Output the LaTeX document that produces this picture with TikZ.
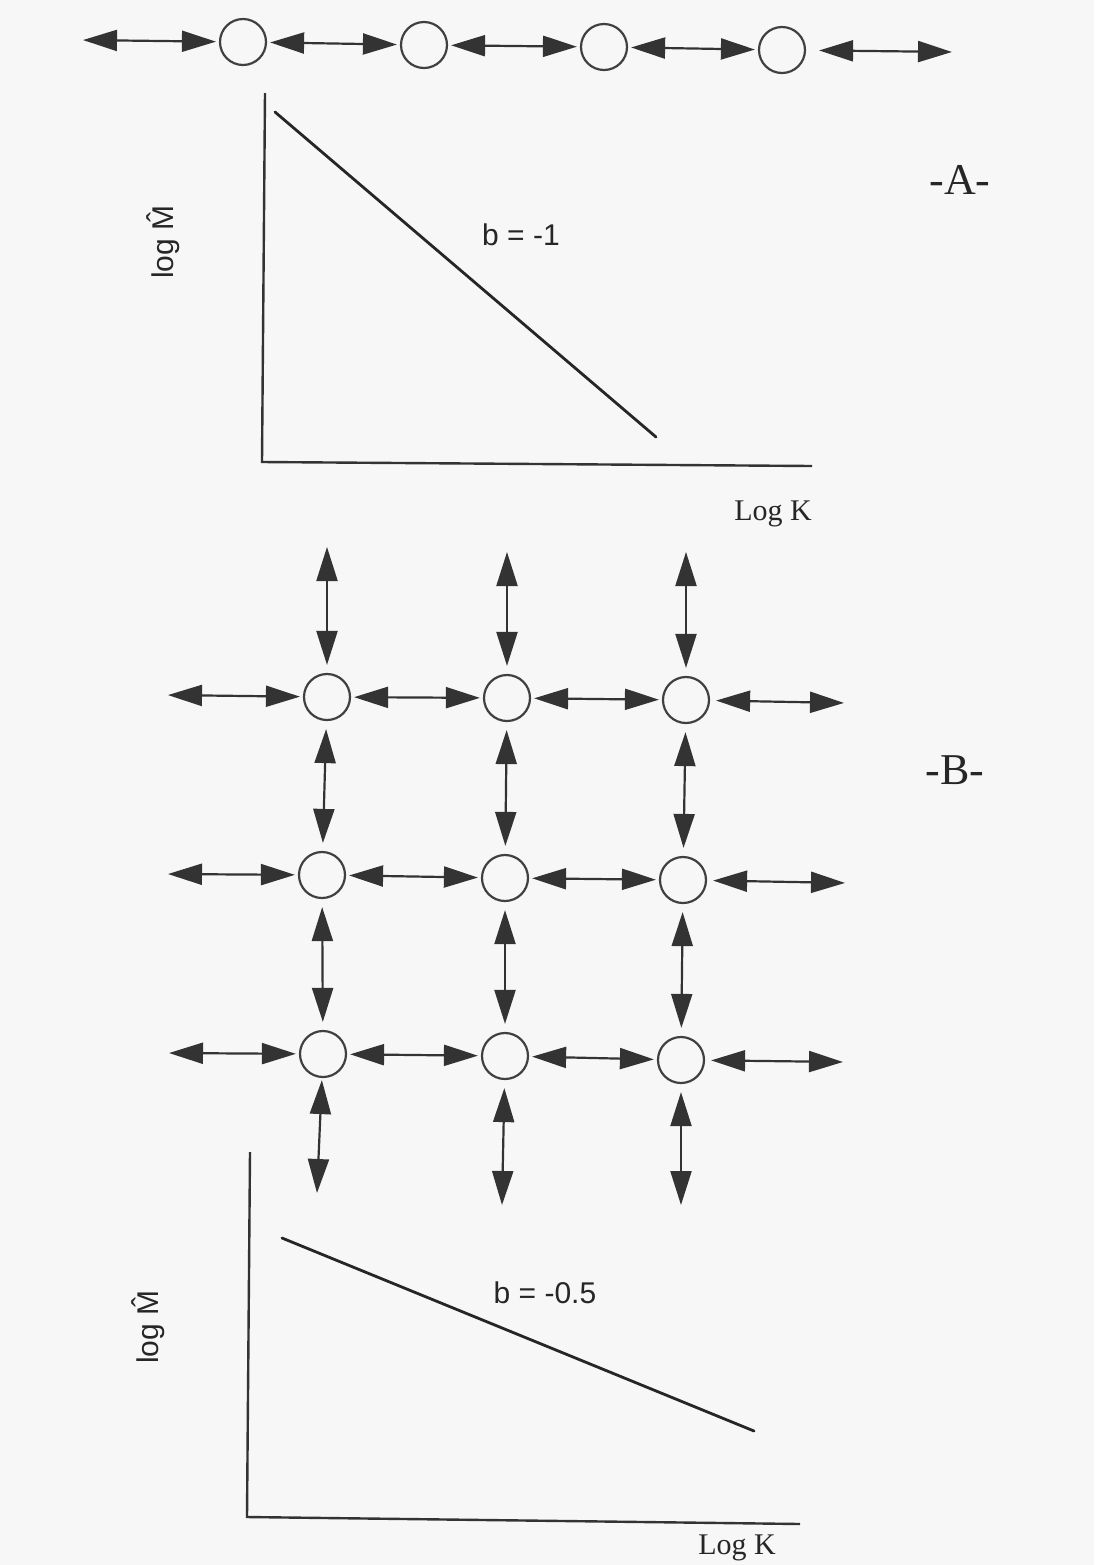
\documentclass[tikz,border=0pt]{standalone}
\usepackage{fontspec}
\setmainfont{Liberation Serif}
\newfontfamily\sansf{Liberation Sans}
\usetikzlibrary{arrows.meta}
\begin{document}
\begin{tikzpicture}[x=0.5pt,y=-0.5pt,
  site/.style={circle, draw=black!75, line width=1.1pt, minimum size=23pt, inner sep=0pt},
  dbl/.style={{Triangle[length=17pt,width=10.5pt]}-{Triangle[length=17pt,width=10.5pt]}, draw=black!80, line width=1.1pt, shorten <=1.5pt, shorten >=1.5pt},
  vdbl/.style={dbl, shorten <=4pt, shorten >=4pt},
  axis/.style={draw=black!80, line width=1.2pt},
  trend/.style={draw=black!85, line width=1.4pt, line cap=round},
  serlab/.style={font=\fontsize{15}{18}\selectfont, text=black!85},
  sanslab/.style={font=\sansf\fontsize{15}{18}\selectfont, text=black!85},
  panel/.style={font=\fontsize{22}{26}\selectfont, text=black!85}]
\useasboundingbox[fill=black!3] (0,0) rectangle (1094,1565);

% ---------- Panel A : chain ----------
\node[site] (a1) at (243,42) {};
\node[site] (a2) at (424,45) {};
\node[site] (a3) at (604,47) {};
\node[site] (a4) at (782,50) {};
\coordinate (la) at (80,40);
\coordinate (ra) at (955,52);
\draw[dbl] (la) -- (a1);
\draw[dbl] (a1) -- (a2);
\draw[dbl] (a2) -- (a3);
\draw[dbl] (a3) -- (a4);
\draw[dbl, shorten <=6.5pt] (a4) -- (ra);

% plot A
\draw[axis] (265,93) -- (262,462) -- (812,466);
\draw[trend] (275,112) -- (656,437);
\node[sanslab] (bA) at (521,235) {b = -1};
\node[sanslab, rotate=90] (yA) at (163,242) {log \^M};
\node[serlab] (xA) at (773,514) {Log K};
\node[panel] (pA) at (960,180) {-A-};

% ---------- Panel B : grid ----------
\node[site] (n11) at (327,697) {};
\node[site] (n12) at (507,698) {};
\node[site] (n13) at (686,700) {};
\node[site] (n21) at (322,875) {};
\node[site] (n22) at (505,878) {};
\node[site] (n23) at (683,880) {};
\node[site] (n31) at (323,1054) {};
\node[site] (n32) at (505,1056) {};
\node[site] (n33) at (681,1060) {};

\coordinate (t1) at (327,547);
\coordinate (t2) at (507,552);
\coordinate (t3) at (686,552);
\coordinate (l1) at (165,695);
\coordinate (l2) at (165,874);
\coordinate (l3) at (166,1053);
\coordinate (r1) at (847,703);
\coordinate (r2) at (848,883);
\coordinate (r3) at (846,1062);
\coordinate (b1) at (317,1193);
\coordinate (b2) at (502,1205);
\coordinate (b3) at (681,1205);

% horizontal
\draw[dbl] (l1) -- (n11);
\draw[dbl] (n11) -- (n12);
\draw[dbl] (n12) -- (n13);
\draw[dbl, shorten <=3pt] (n13) -- (r1);
\draw[dbl] (l2) -- (n21);
\draw[dbl] (n21) -- (n22);
\draw[dbl] (n22) -- (n23);
\draw[dbl, shorten <=3pt] (n23) -- (r2);
\draw[dbl] (l3) -- (n31);
\draw[dbl] (n31) -- (n32);
\draw[dbl] (n32) -- (n33);
\draw[dbl, shorten <=3pt] (n33) -- (r3);
% vertical
\draw[vdbl, shorten <=0pt] (t1) -- (n11);
\draw[vdbl, shorten <=0pt] (t2) -- (n12);
\draw[vdbl, shorten <=0pt] (t3) -- (n13);
\draw[vdbl] (n11) -- (n21);
\draw[vdbl] (n12) -- (n22);
\draw[vdbl] (n13) -- (n23);
\draw[vdbl] (n21) -- (n31);
\draw[vdbl] (n22) -- (n32);
\draw[vdbl] (n23) -- (n33);
\draw[vdbl, shorten <=1pt, shorten >=0pt] (n31) -- (b1);
\draw[vdbl, shorten >=0pt] (n32) -- (b2);
\draw[vdbl, shorten >=0pt] (n33) -- (b3);

\node[panel] (pB) at (955,770) {-B-};

% plot B
\draw[axis] (250,1152) -- (247,1517) -- (800,1524);
\draw[trend] (282,1238) -- (754,1431);
\node[sanslab] (bB) at (545,1293) {b = -0.5};
\node[sanslab, rotate=90] (yB) at (148,1327) {log \^M};
\node[serlab] (xB) at (737,1548) {Log K};
\end{tikzpicture}
\end{document}
